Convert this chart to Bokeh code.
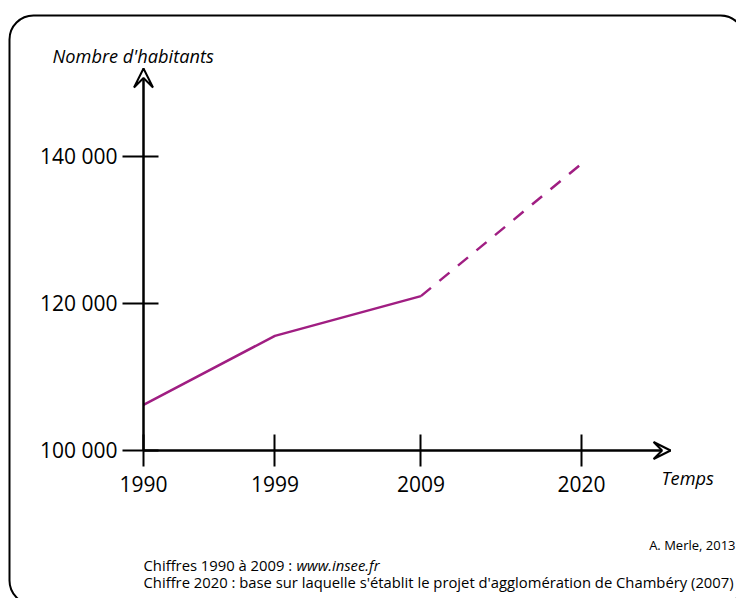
from bokeh.plotting import figure
from bokeh.models import Range1d, FixedTicker, Label, BoxAnnotation, Arrow, VeeHead
from bokeh.embed import file_html
from bokeh.resources import INLINE

# ---- data ----
years_obs = [1990, 1999, 2009]
pop_obs = [106200, 115600, 121000]
years_proj = [2009, 2020]
pop_proj = [121000, 139000]
x_ticks = [1990, 1999, 2009, 2020]
y_ticks = [100000, 120000, 140000]
y_tick_labels = ["100 000", "120 000", "140 000"]

FONT = "Open Sans"
PURPLE = "#A01E82"

# axis extents (end of arrows)
X_AXIS_END = 2026.1
Y_AXIS_END = 151970

p = figure(width=736, height=598, output_backend="svg", toolbar_location=None,
           x_range=Range1d(1980.205, 2030.616), y_range=Range1d(79864, 161224),
           min_border=0, min_border_left=0, min_border_right=0,
           min_border_top=0, min_border_bottom=0)
p.outline_line_color = None
p.grid.visible = False
p.background_fill_color = "white"
p.border_fill_color = "white"

xa = p.xaxis[0]
xa.fixed_location = y_ticks[0]
xa.bounds = (x_ticks[0], X_AXIS_END)
xa.ticker = FixedTicker(ticks=x_ticks)
xa.axis_line_width = 2
xa.axis_line_color = "black"
xa.major_tick_line_width = 2
xa.major_tick_line_color = "black"
xa.major_tick_in = 16
xa.major_tick_out = 16
xa.minor_tick_line_color = None
xa.major_label_text_font = FONT
xa.major_label_text_font_size = "21px"
xa.major_label_text_color = "black"
xa.major_label_standoff = 10

ya = p.yaxis[0]
ya.fixed_location = x_ticks[0]
ya.bounds = (y_ticks[0], Y_AXIS_END)
ya.ticker = FixedTicker(ticks=y_ticks)
ya.major_label_overrides = dict(zip(y_ticks, y_tick_labels))
ya.axis_line_width = 2
ya.axis_line_color = "black"
ya.major_tick_line_width = 2
ya.major_tick_line_color = "black"
ya.major_tick_in = 15
ya.major_tick_out = 21
ya.minor_tick_line_color = None
ya.major_label_text_font = FONT
ya.major_label_text_font_size = "21px"
ya.major_label_text_color = "black"
ya.major_label_standoff = 5

# data lines
p.line(years_obs, pop_obs, line_color=PURPLE, line_width=2.5)
p.line(years_proj, pop_proj, line_color=PURPLE, line_width=2.5, line_dash="13 11")

# axis arrowheads
p.add_layout(Arrow(end=VeeHead(size=19, fill_color="white", line_color="black", line_width=2),
                   x_start=x_ticks[0], y_start=y_ticks[0],
                   x_end=x_ticks[0], y_end=Y_AXIS_END,
                   line_color="black", line_width=2))
p.add_layout(Arrow(end=VeeHead(size=17, fill_color="white", line_color="black", line_width=2),
                   x_start=x_ticks[0], y_start=y_ticks[0],
                   x_end=X_AXIS_END, y_end=y_ticks[0],
                   line_color="black", line_width=2))

# frame border
p.add_layout(BoxAnnotation(left=9, right=744, top=15, bottom=604,
                           left_units="canvas", right_units="canvas",
                           top_units="canvas", bottom_units="canvas",
                           fill_alpha=0, line_color="black", line_width=2,
                           line_alpha=1, border_radius=24))

def lab(x, y, text, size, style="normal", align="left"):
    p.add_layout(Label(x=x, y=y, x_units="canvas", y_units="canvas", text=text,
                       text_font=FONT, text_font_size=size, text_font_style=style,
                       text_align=align, text_baseline="alphabetic", text_color="black"))

lab(52, 55, "Nombre d'habitants", "18.2px", "italic")
lab(661, 477, "Temps", "18.2px", "italic")
lab(735, 544, "A. Merle, 2013", "13px", align="right")
lab(143, 564, "Chiffres 1990 à 2009 :", "14.8px")
lab(296, 564, "www.insee.fr", "14.8px", "italic")
lab(143, 581, "Chiffre 2020 : base sur laquelle s'établit le projet d'agglomération de Chambéry (2007)", "14.8px")

open("out.html", "w").write(file_html(p, INLINE))
